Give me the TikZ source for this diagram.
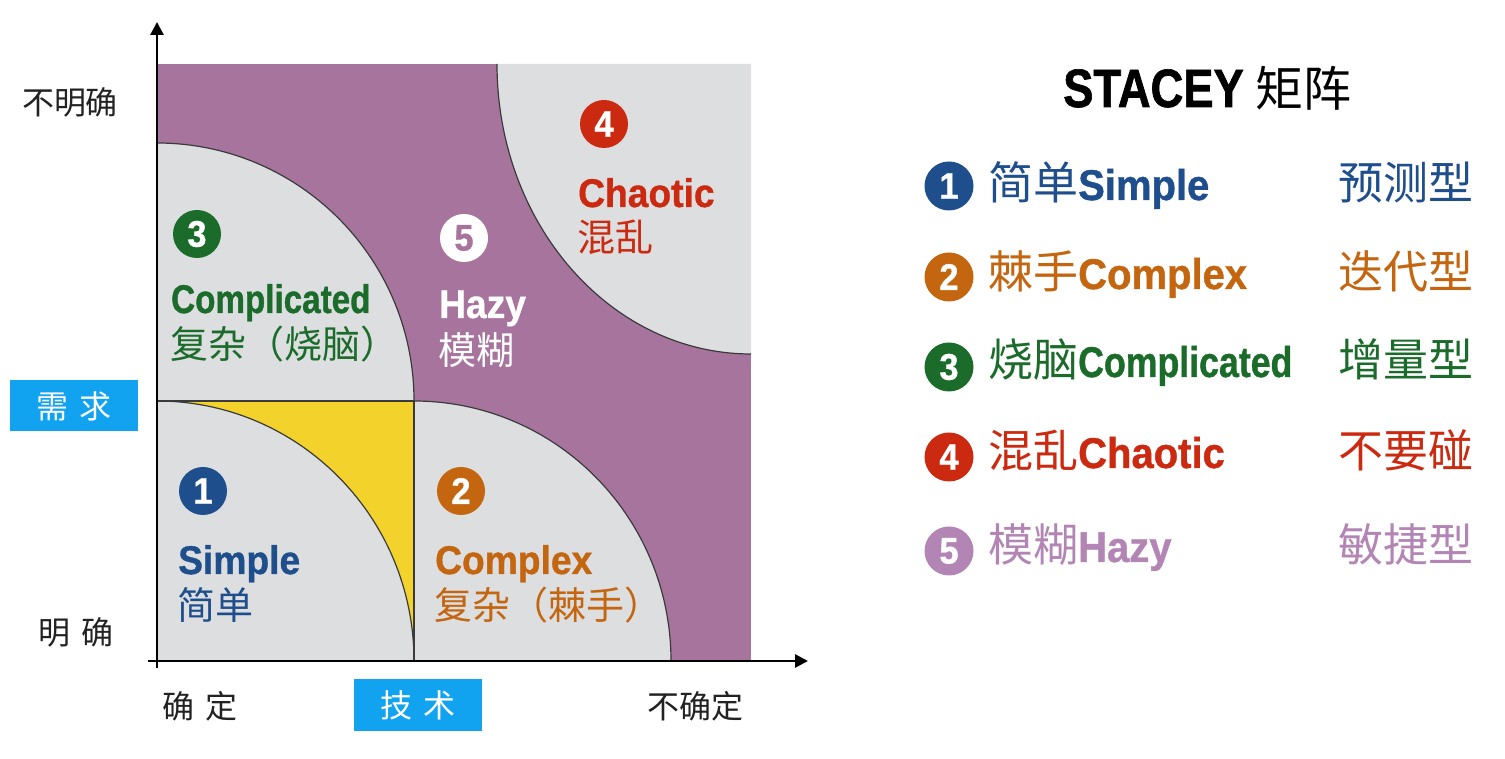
\documentclass[tikz,border=0pt]{standalone}
\usepackage{fontspec}
\usetikzlibrary{arrows.meta}
\newfontfamily\cjk{Noto Sans CJK SC}
\newfontfamily\enb{Liberation Sans}[FakeStretch=0.93,FakeBold=0.9]
\newfontfamily\enc{Liberation Sans}[FakeStretch=0.83,FakeBold=0.9]
\newfontfamily\ent{Liberation Sans}[FakeStretch=0.84,FakeBold=1.2]
\definecolor{cpurple}{HTML}{A7749D}
\definecolor{cgray}{HTML}{DCDEE0}
\definecolor{cyellow}{HTML}{F4D22C}
\definecolor{cline}{HTML}{3A3A3A}
\definecolor{cbox}{HTML}{12A3F0}
\definecolor{cblue}{HTML}{1F4E8C}
\definecolor{corange}{HTML}{C4650F}
\definecolor{cgreen}{HTML}{1B6B2B}
\definecolor{cred}{HTML}{CC2A10}
\definecolor{clpurple}{HTML}{B385B5}
\definecolor{ctext}{HTML}{222222}
\begin{document}
\begin{tikzpicture}[x=1pt,y=1pt,
  numc/.style={circle, inner sep=0pt, minimum size=48pt, text=white,
    font=\enb\bfseries\fontsize{37}{37}\selectfont},
  qen/.style={anchor=base west, inner sep=0pt, font=\enb\bfseries\fontsize{40}{40}\selectfont},
  qcn/.style={anchor=west, inner sep=0pt, font=\cjk\fontsize{38}{38}\selectfont},
  axlab/.style={inner sep=0pt, text=ctext, font=\cjk\fontsize{32}{32}\selectfont},
  bluebox/.style={fill=cbox, minimum width=128pt, minimum height=51pt, inner sep=0pt,
    text=white, font=\cjk\fontsize{32}{32}\selectfont},
  leg/.style={anchor=base west, inner sep=0pt},
  arcline/.style={draw=cline, line width=1.2pt},
  axisline/.style={draw=black, line width=2.8pt, -{Triangle[length=13pt,width=13pt]}}
]
\useasboundingbox (0,0) rectangle (1505,758);

% --- regions ---
\fill[cpurple] (157,97) rectangle (751,694);
\fill[cyellow] (157,97) rectangle (414,357);
\fill[cgray] (157,97) -- (414,97) arc[start angle=0, end angle=90, x radius=257, y radius=260] -- cycle;
\fill[cgray] (414,97) -- (671,97) arc[start angle=0, end angle=90, x radius=257, y radius=260] -- cycle;
\fill[cgray] (157,357) -- (414,357) arc[start angle=0, end angle=90, x radius=257, y radius=258] -- cycle;
\fill[cgray] (751,694) -- (497,694) arc[start angle=180, end angle=270, x radius=254, y radius=290] -- cycle;

% --- outlines ---
\draw[arcline] (414,97) arc[start angle=0, end angle=90, x radius=257, y radius=260];
\draw[arcline] (671,97) arc[start angle=0, end angle=90, x radius=257, y radius=260];
\draw[arcline] (414,357) arc[start angle=0, end angle=90, x radius=257, y radius=258];
\draw[arcline] (497,694) arc[start angle=180, end angle=270, x radius=254, y radius=290];
\draw[arcline] (157,357) -- (414,357) -- (414,97);

% --- axes ---
\coordinate (yS) at (157,90);
\coordinate (yE) at (157,736);
\coordinate (xS) at (148,97);
\coordinate (xE) at (808,97);
\draw[axisline] (yS) -- (yE);
\draw[axisline] (xS) -- (xE);

% --- axis labels ---
\node[axlab] (unclearR) at (70,656) {不明确};
\node[axlab] (clearR) at (76,126) {明\hspace{11pt}确};
\node[axlab] (certT) at (200,52) {确\hspace{11pt}定};
\node[axlab] (uncertT) at (695,52) {不确定};
\node[bluebox] (req) at (74,352) {需\hspace{11pt}求};
\node[bluebox] (tech) at (418,53) {技\hspace{11pt}术};

% --- quadrant labels ---
\node[numc, fill=cblue] (n1) at (203,267) {1};
\node[qen, text=cblue] (simpleE) at (178,184) {Simple};
\node[qcn, text=cblue] (simpleC) at (177,153) {简单};

\node[numc, fill=corange] (n2) at (461,267) {2};
\node[qen, text=corange] (complexE) at (435,184) {Complex};
\node[qcn, text=corange] (complexC) at (434,153) {复杂（棘手）};

\node[numc, fill=cgreen] (n3) at (197,524) {3};
\node[qen, text=cgreen, font=\enc\bfseries\fontsize{40}{40}\selectfont] (complicatedE) at (171,445) {Complicated};
\node[qcn, text=cgreen] (complicatedC) at (170,414) {复杂（烧脑）};

\node[numc, fill=cred] (n4) at (604,634) {4};
\node[qen, text=cred] (chaoticE) at (578,551) {Chaotic};
\node[qcn, text=cred] (chaoticC) at (577,521) {混乱};

\node[numc, fill=white, text=cpurple] (n5) at (464,520) {5};
\node[qen, text=white] (hazyE) at (439,440) {Hazy};
\node[qcn, text=white] (hazyC) at (438,408) {模糊};

% --- legend ---
\node[leg] (title) at (1063,651) {{\ent\bfseries\fontsize{54}{54}\selectfont STACEY}\hspace{12pt}{\cjk\fontsize{48}{48}\selectfont 矩阵}};

\node[numc, fill=cblue, minimum size=49pt] (l1) at (949,572) {1};
\node[leg, text=cblue] (l1t) at (988,558) {{\cjk\fontsize{45}{45}\selectfont 简单}{\enb\bfseries\fontsize{43}{43}\selectfont Simple}};
\node[leg, text=cblue, font=\cjk\fontsize{45}{45}\selectfont] (l1r) at (1338,558) {预测型};

\node[numc, fill=corange, minimum size=49pt] (l2) at (949,481) {2};
\node[leg, text=corange] (l2t) at (988,469) {{\cjk\fontsize{45}{45}\selectfont 棘手}{\enb\bfseries\fontsize{43}{43}\selectfont Complex}};
\node[leg, text=corange, font=\cjk\fontsize{45}{45}\selectfont] (l2r) at (1338,469) {迭代型};

\node[numc, fill=cgreen, minimum size=49pt] (l3) at (949,391) {3};
\node[leg, text=cgreen] (l3t) at (988,381) {{\cjk\fontsize{45}{45}\selectfont 烧脑}{\enc\bfseries\fontsize{43}{43}\selectfont Complicated}};
\node[leg, text=cgreen, font=\cjk\fontsize{45}{45}\selectfont] (l3r) at (1338,381) {增量型};

\node[numc, fill=cred, minimum size=49pt] (l4) at (949,301) {4};
\node[leg, text=cred] (l4t) at (988,290) {{\cjk\fontsize{45}{45}\selectfont 混乱}{\enb\bfseries\fontsize{43}{43}\selectfont Chaotic}};
\node[leg, text=cred, font=\cjk\fontsize{45}{45}\selectfont] (l4r) at (1338,290) {不要碰};

\node[numc, fill=clpurple, minimum size=49pt] (l5) at (949,207) {5};
\node[leg, text=clpurple] (l5t) at (988,196) {{\cjk\fontsize{45}{45}\selectfont 模糊}{\enb\bfseries\fontsize{43}{43}\selectfont Hazy}};
\node[leg, text=clpurple, font=\cjk\fontsize{45}{45}\selectfont] (l5r) at (1338,196) {敏捷型};
\end{tikzpicture}
\end{document}
